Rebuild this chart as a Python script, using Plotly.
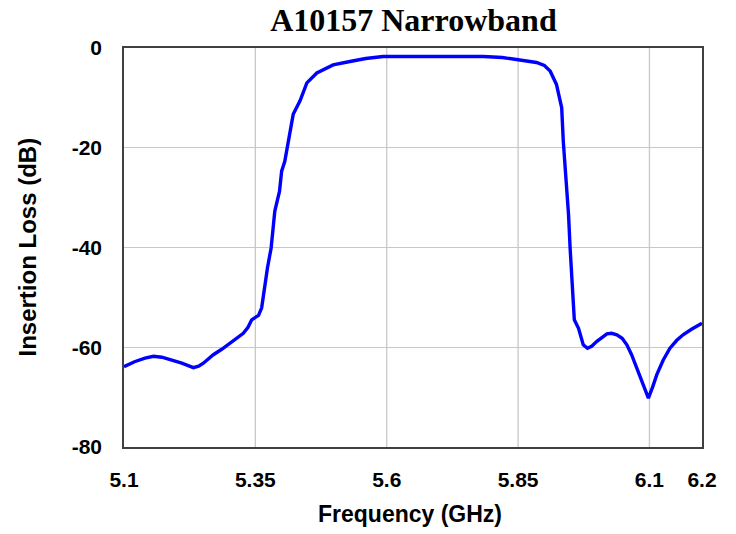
import plotly.graph_objects as go

freq_ghz = [5.100, 5.120, 5.140, 5.156, 5.172, 5.188, 5.210, 5.232, 5.242, 5.251, 5.260,
            5.270, 5.286, 5.302, 5.315, 5.327, 5.336, 5.343, 5.350, 5.356, 5.362, 5.366,
            5.373, 5.380, 5.383, 5.387, 5.396, 5.400, 5.406, 5.413, 5.422, 5.435, 5.448,
            5.467, 5.498, 5.530, 5.560, 5.593, 5.640, 5.689, 5.740, 5.784, 5.820, 5.847,
            5.870, 5.885, 5.900, 5.911, 5.923, 5.933, 5.936, 5.939, 5.942, 5.946, 5.949,
            5.952, 5.955, 5.957, 5.965, 5.974, 5.982, 5.990, 6.000, 6.010, 6.019, 6.028,
            6.038, 6.048, 6.057, 6.066, 6.076, 6.087, 6.098, 6.106, 6.114, 6.126, 6.139,
            6.152, 6.164, 6.180, 6.200]
loss_db = [-63.9, -62.9, -62.2, -61.8, -62.0, -62.5, -63.2, -64.1, -63.8, -63.2, -62.3,
           -61.5, -60.4, -59.2, -58.1, -57.2, -56.0, -54.5, -54.0, -53.6, -52.1, -48.8,
           -44.1, -40.1, -36.1, -32.7, -28.7, -24.7, -22.7, -18.5, -13.3, -10.6, -7.0,
           -5.0, -3.4, -2.7, -2.1, -1.7, -1.7, -1.8, -1.8, -1.7, -1.9, -2.3,
           -2.6, -2.9, -3.5, -4.6, -7.3, -12.0, -18.7, -22.7, -28.7, -33.4, -40.1,
           -46.8, -51.5, -54.5, -56.2, -59.5, -60.2, -59.8, -58.8, -57.9, -57.3, -57.2,
           -57.5, -58.2, -59.5, -61.5, -64.2, -67.2, -70.2, -68.0, -65.5, -62.6, -60.2,
           -58.6, -57.5, -56.4, -55.2]

x_tickvals = [5.1, 5.35, 5.6, 5.85, 6.1, 6.2]
x_ticktext = ["5.1", "5.35", "5.6", "5.85", "6.1", "6.2"]
x_gridvals = [5.35, 5.6, 5.85, 6.1]
y_tickvals = [0, -20, -40, -60, -80]
y_ticktext = ["0", "-20", "-40", "-60", "-80"]

tick_font = dict(family="Liberation Sans", size=21, color="black", weight="bold")

fig = go.Figure()
fig.add_trace(go.Scatter(x=freq_ghz, y=loss_db, mode="lines",
                         line=dict(color="#0000ff", width=3.4), showlegend=False))

for gx in x_gridvals:
    fig.add_vline(x=gx, line=dict(color="#c8c8c8", width=1.3), layer="below")

fig.add_annotation(text="<b>Frequency (GHz)</b>", xref="paper", yref="paper",
                   x=0.495, y=0, yshift=-67, xanchor="center", yanchor="middle",
                   showarrow=False,
                   font=dict(family="Liberation Sans", size=23, color="black"))
fig.add_annotation(text="<b>Insertion Loss (dB)</b>", xref="paper", yref="paper",
                   x=0, xshift=-97, y=0.5, xanchor="center", yanchor="middle",
                   textangle=-90, showarrow=False,
                   font=dict(family="Liberation Sans", size=24, color="black"))

fig.update_layout(
    width=736, height=534,
    paper_bgcolor="white", plot_bgcolor="white",
    margin=dict(l=124, r=34, t=48, b=87, autoexpand=False),
    title=dict(text="<b>A10157 Narrowband</b>", x=0.5617, xanchor="center",
               xref="container", yref="container", y=0.9635, yanchor="middle",
               font=dict(family="Liberation Serif", size=32, color="black")),
    xaxis=dict(range=[5.1, 6.2], tickvals=x_tickvals, ticktext=x_ticktext,
               showgrid=False, zeroline=False, ticks="", automargin=False,
               showline=True, linecolor="#404040", linewidth=1.6, mirror=True,
               ticklabelstandoff=13, tickfont=tick_font),
    yaxis=dict(range=[-80, 0], tickvals=y_tickvals, ticktext=y_ticktext,
               showgrid=True, gridcolor="#c8c8c8", gridwidth=1.3, zeroline=False, ticks="",
               automargin=False,
               showline=True, linecolor="#404040", linewidth=1.6, mirror=True,
               ticklabelstandoff=16, tickfont=tick_font),
)

fig.write_html("out.html", config={"displayModeBar": False},
               post_script="document.body.style.margin='0';document.body.style.overflow='hidden';")
